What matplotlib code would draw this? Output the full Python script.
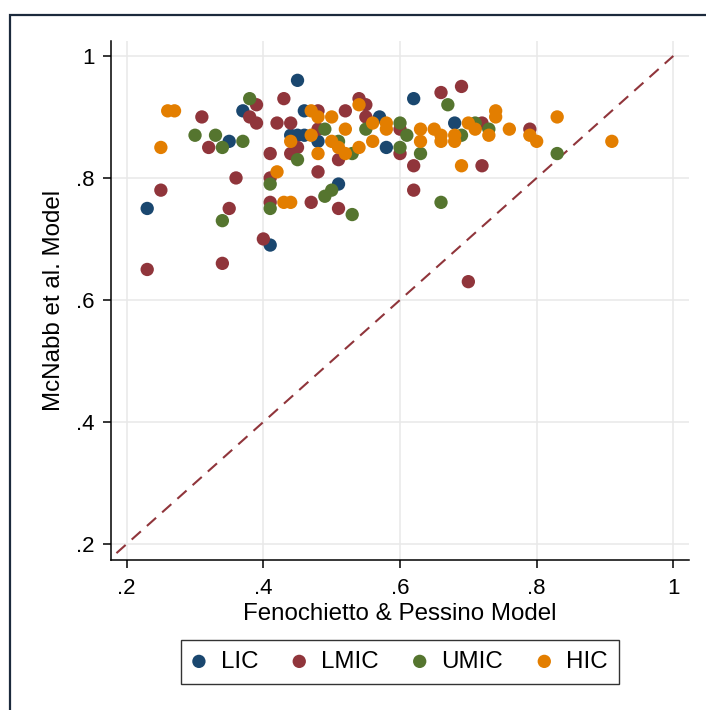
import matplotlib
matplotlib.use("Agg")
import matplotlib.pyplot as plt
from matplotlib.patches import Rectangle

plt.rcParams['font.family'] = ['Liberation Sans', 'DejaVu Sans']

# (Fenochietto & Pessino, McNabb et al.) per income group
lic_x = [0.23, 0.35, 0.37, 0.41, 0.44, 0.45, 0.46, 0.45, 0.46, 0.48, 0.51, 0.57, 0.58, 0.62, 0.68]
lic_y = [0.75, 0.86, 0.91, 0.69, 0.87, 0.87, 0.87, 0.96, 0.91, 0.86, 0.79, 0.90, 0.85, 0.93, 0.89]

lmic_x = [0.23, 0.25, 0.31, 0.32, 0.34, 0.35, 0.36, 0.38, 0.39, 0.39, 0.40, 0.41, 0.41, 0.41,
          0.42, 0.43, 0.44, 0.44, 0.45, 0.47, 0.48, 0.48, 0.48, 0.51, 0.51, 0.52, 0.54, 0.55,
          0.55, 0.60, 0.60, 0.62, 0.62, 0.66, 0.69, 0.70, 0.72, 0.72, 0.79]
lmic_y = [0.65, 0.78, 0.90, 0.85, 0.66, 0.75, 0.80, 0.90, 0.92, 0.89, 0.70, 0.84, 0.80, 0.76,
          0.89, 0.93, 0.89, 0.84, 0.85, 0.76, 0.91, 0.88, 0.81, 0.83, 0.75, 0.91, 0.93, 0.92,
          0.90, 0.88, 0.84, 0.82, 0.78, 0.94, 0.95, 0.63, 0.89, 0.82, 0.88]

umic_x = [0.30, 0.33, 0.34, 0.34, 0.37, 0.38, 0.41, 0.41, 0.45, 0.49, 0.49, 0.50, 0.51, 0.53,
          0.53, 0.55, 0.60, 0.60, 0.61, 0.63, 0.66, 0.67, 0.69, 0.71, 0.73, 0.83]
umic_y = [0.87, 0.87, 0.85, 0.73, 0.86, 0.93, 0.79, 0.75, 0.83, 0.88, 0.77, 0.78, 0.86, 0.84,
          0.74, 0.88, 0.89, 0.85, 0.87, 0.84, 0.76, 0.92, 0.87, 0.89, 0.88, 0.84]

hic_x = [0.25, 0.26, 0.27, 0.42, 0.43, 0.44, 0.44, 0.47, 0.47, 0.48, 0.48, 0.50, 0.50, 0.51,
         0.52, 0.52, 0.54, 0.54, 0.56, 0.56, 0.58, 0.58, 0.63, 0.63, 0.65, 0.66, 0.66, 0.68,
         0.68, 0.69, 0.70, 0.71, 0.73, 0.74, 0.74, 0.76, 0.79, 0.80, 0.83, 0.91]
hic_y = [0.85, 0.91, 0.91, 0.81, 0.76, 0.76, 0.86, 0.91, 0.87, 0.90, 0.84, 0.90, 0.86, 0.85,
         0.88, 0.84, 0.92, 0.85, 0.89, 0.86, 0.89, 0.88, 0.88, 0.86, 0.88, 0.87, 0.86, 0.87,
         0.86, 0.82, 0.89, 0.88, 0.87, 0.91, 0.90, 0.88, 0.87, 0.86, 0.90, 0.86]

ticks = [0.2, 0.4, 0.6, 0.8, 1.0]
tick_labels = [".2", ".4", ".6", ".8", "1"]
diag = [0.185, 1.0]

fig = plt.figure(figsize=(7.06, 7.10), dpi=100)
ax = fig.add_axes([0.1572, 0.2113, 0.9755 - 0.1572, 0.9427 - 0.2113])

for xv in ticks:
    ax.axvline(xv, color="#e8e8e8", lw=1.1, zorder=0)
    ax.axhline(xv, color="#e8e8e8", lw=1.1, zorder=0)

ax.plot(diag, diag, color="#90353b", lw=1.5, dashes=(5.9, 3.9), zorder=1)

groups = [(lic_x, lic_y, "#1a476f", "LIC"),
          (lmic_x, lmic_y, "#90353b", "LMIC"),
          (umic_x, umic_y, "#55752f", "UMIC"),
          (hic_x, hic_y, "#e37e00", "HIC")]
for gx, gy, col, lab in groups:
    ax.scatter(gx, gy, s=92, color=col, edgecolors="none", label=lab, zorder=2)

ax.set_xlim(0.177, 1.0225)
ax.set_ylim(0.1738, 1.025)
ax.set_xticks(ticks)
ax.set_xticklabels(tick_labels)
ax.set_yticks(ticks)
ax.set_yticklabels(tick_labels)
ax.tick_params(axis="both", direction="out", length=6, width=1.1, labelsize=16, pad=6)
ax.tick_params(axis="x", pad=7)

for side in ["top", "right"]:
    ax.spines[side].set_visible(False)
for side in ["left", "bottom"]:
    ax.spines[side].set_linewidth(1.1)

ax.set_xlabel("Fenochietto & Pessino Model", fontsize=17.4, labelpad=3)
ax.set_ylabel("McNabb et al. Model", fontsize=17.4, labelpad=8)

leg = fig.legend(loc="center", bbox_to_anchor=(0.5661, 0.068), ncol=4, fontsize=17.4,
                 frameon=True, fancybox=False, handlelength=0.6, handletextpad=0.6,
                 columnspacing=1.4, borderpad=0.45, scatterpoints=1)
leg.get_frame().set_edgecolor("black")
leg.get_frame().set_linewidth(1.0)

fig.patches.append(Rectangle((10 / 706, -0.2), 1.5, (710 - 15) / 710 + 0.2,
                             transform=fig.transFigure, fill=False,
                             edgecolor="#1c2a3c", lw=1.6, zorder=0))

fig.savefig("out.png", dpi=100)
